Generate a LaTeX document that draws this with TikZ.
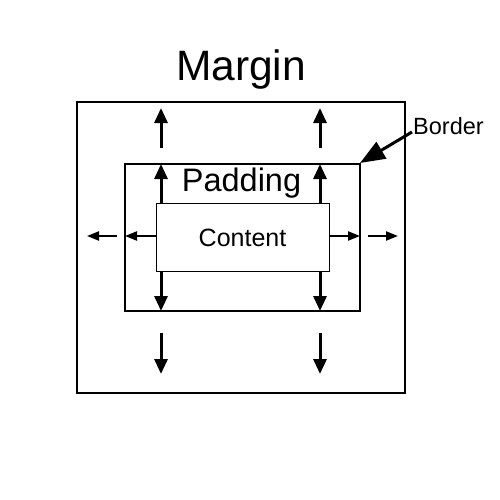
\documentclass[tikz,border=0pt]{standalone}
\usepackage{fontspec}
\setmainfont{Liberation Sans}
\usetikzlibrary{arrows.meta}
\begin{document}
\begin{tikzpicture}[x=1pt,y=-1pt,
  box/.style={draw=black,inner sep=0pt,fill=none},
  varrow/.style={line width=3pt,-{Triangle[length=15pt,width=13pt]}},
  harrow/.style={line width=2.2pt,-{Triangle[length=12pt,width=9pt]}},
  barrow/.style={line width=3pt,-{Triangle[length=25pt,width=19pt]}},
  lbl/.style={inner sep=0pt,anchor=base}]
\useasboundingbox[fill=white] (0,0) rectangle (500,500);
\node[box,line width=1.8pt,minimum width=328pt,minimum height=291pt] (margin) at (241,247.5) {};
\node[box,line width=1.8pt,minimum width=235pt,minimum height=147pt] (border) at (242.5,237.5) {};
\node[box,line width=0.9pt,minimum width=173pt,minimum height=68pt] (content) at (242.5,237) {};
\node[lbl,font=\fontsize{42.5}{42}\selectfont] (tmargin) at (241,81) {Margin};
\node[lbl,font=\fontsize{32.5}{32}\selectfont] (tpadding) at (241.5,191) {Padding};
\node[lbl,font=\fontsize{25}{25}\selectfont] (tcontent) at (242.5,246) {Content};
\node[lbl,anchor=base west,font=\fontsize{23.5}{24}\selectfont] (tborder) at (413,134) {Border};
% coordinates
\coordinate (ci1) at (161,203); \coordinate (bi1) at (161,164);
\coordinate (ci2) at (320,203); \coordinate (bi2) at (320,164);
\coordinate (co1) at (161,148); \coordinate (mo1) at (161,108);
\coordinate (co2) at (320,148); \coordinate (mo2) at (320,108);
\coordinate (cb1) at (161,271); \coordinate (bb1) at (161,311);
\coordinate (cb2) at (320,271); \coordinate (bb2) at (320,311);
\coordinate (ob1) at (161,333); \coordinate (mb1) at (161,374);
\coordinate (ob2) at (320,333); \coordinate (mb2) at (320,374);
\coordinate (cl) at (156,236); \coordinate (bl) at (125,236);
\coordinate (ol) at (117,236); \coordinate (ml) at (87,236);
\coordinate (cr) at (329,236); \coordinate (br) at (360,236);
\coordinate (or) at (368,236); \coordinate (mr) at (398,236);
\coordinate (bs) at (412,132); \coordinate (bc) at (360,163);
\draw[varrow] (ci1) -- (bi1);
\draw[varrow] (ci2) -- (bi2);
\draw[varrow] (co1) -- (mo1);
\draw[varrow] (co2) -- (mo2);
\draw[varrow] (cb1) -- (bb1);
\draw[varrow] (cb2) -- (bb2);
\draw[varrow] (ob1) -- (mb1);
\draw[varrow] (ob2) -- (mb2);
\draw[harrow] (cl) -- (bl);
\draw[harrow] (ol) -- (ml);
\draw[harrow] (cr) -- (br);
\draw[harrow] (or) -- (mr);
\draw[barrow] (bs) -- (bc);
\end{tikzpicture}
\end{document}
